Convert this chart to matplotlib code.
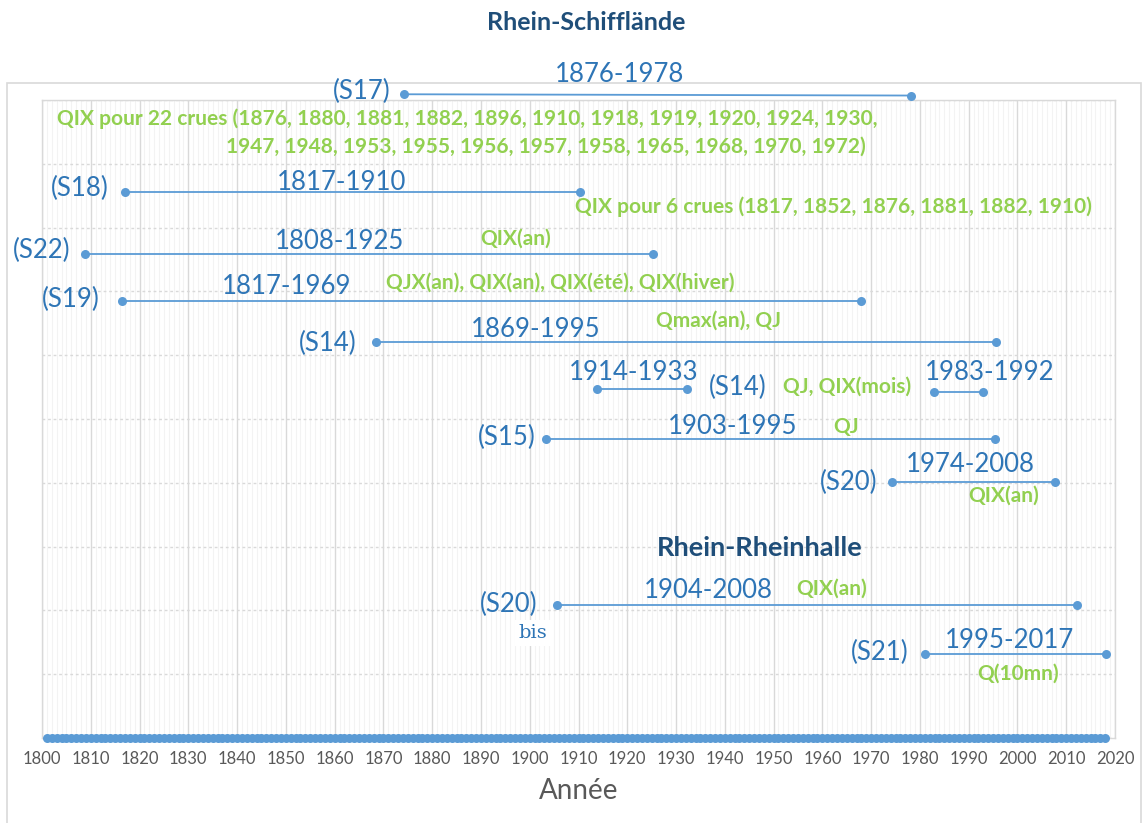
import numpy as np
import matplotlib
matplotlib.use("Agg")
import matplotlib.pyplot as plt
from matplotlib.patches import Rectangle
from matplotlib.ticker import MultipleLocator

# ---------------- data ----------------
series_names = ["S17", "S18", "S22", "S19", "S14", "S14a", "S14b", "S15", "S20", "S20bis", "S21"]
start_years = [1874.2, 1817.0, 1808.8, 1816.4, 1868.5, 1913.8, 1982.9, 1903.3, 1974.3, 1905.6, 1981.1]
end_years = [1978.1, 1910.3, 1925.3, 1967.9, 1995.6, 1932.3, 1993.0, 1995.4, 2007.7, 2012.2, 2018.2]
levels_start = [10.09, 8.56, 7.59, 6.85, 6.21, 5.47, 5.42, 4.69, 4.01, 2.08, 1.32]
levels_end = [10.07, 8.56, 7.59, 6.85, 6.21, 5.47, 5.42, 4.69, 4.01, 2.08, 1.32]
axis_years = list(range(1801, 2019))
tick_years = list(range(1800, 2021, 10))

W, H = 1145, 823
BLUE_TXT = "#2E75B6"
BLUE = "#5B9BD5"
GREEN = "#92D050"
NAVY = "#1F4E79"
GRAY = "#595959"

plt.rcParams["font.family"] = ["Lato", "DejaVu Sans"]

fig = plt.figure(figsize=(W / 100, H / 100), dpi=100)
ax = fig.add_axes([42 / W, 1 - 738 / H, (1115 - 42) / W, (738 - 100) / H])

# outer chart border
fig.patches.append(Rectangle((7 / W, -0.05), (1141 - 7) / W, 0.05 + 1 - 83 / H,
                             transform=fig.transFigure, fill=False,
                             edgecolor="#D9D9D9", lw=1.2, zorder=0))

ax.set_xlim(1800, 2020)
ax.set_ylim(0, 10)
ax.xaxis.set_major_locator(MultipleLocator(10))
ax.xaxis.set_minor_locator(MultipleLocator(1))
ax.yaxis.set_major_locator(MultipleLocator(1))
ax.grid(which="minor", axis="x", color="#F3F3F3", lw=0.8)
ax.grid(which="major", axis="x", color="#D9D9D9", lw=1.0)
ax.grid(which="major", axis="y", color="#D9D9D9", lw=1.0, ls=(0, (2, 2)))
ax.set_axisbelow(True)
ax.set_yticklabels([])
ax.tick_params(axis="y", length=0)
ax.tick_params(axis="x", which="both", length=0, pad=9, labelsize=12, labelcolor=GRAY)
ax.set_xticks(tick_years)
ax.set_xticklabels([str(t) for t in tick_years])
for s in ax.spines.values():
    s.set_color("#D9D9D9")
    s.set_linewidth(1.0)

# segments
for x0, x1, y0, y1 in zip(start_years, end_years, levels_start, levels_end):
    ax.plot([x0, x1], [y0, y1], color=BLUE, lw=1.3, marker="o", ms=6.5,
            markeredgewidth=0, clip_on=False, zorder=3)

# bottom axis band of yearly points
ax.plot(axis_years, [0] * len(axis_years), color=BLUE, lw=0, marker="o", ms=6.5,
        markeredgewidth=0, clip_on=False, zorder=3)

ax.set_xlabel("Année", fontsize=20, color=GRAY, labelpad=8)

# ---------------- annotations (figure pixel positions) ----------------
def ftext(px, py, s, color, size, weight="normal", ha="center", **kw):
    fig.text(px / W, 1 - py / H, s, color=color, fontsize=size, fontweight=weight,
             ha=ha, va="center", **kw)

BS = 18.5  # blue label size
GS = 15  # green label size

ftext(586, 22, "Rhein-Schifflände", NAVY, 18, "bold")
ftext(760, 548, "Rhein-Rheinhalle", NAVY, 19.5, "bold")

blue_labels = [
    (362, 91, "(S17)"), (620, 74, "1876-1978"),
    (80, 188, "(S18)"), (342, 183, "1817-1910"),
    (42, 250, "(S22)"), (340, 241, "1808-1925"),
    (71, 299, "(S19)"), (287, 286, "1817-1969"),
    (328, 343, "(S14)"), (536, 329, "1869-1995"),
    (634, 372, "1914-1933"), (738, 387, "(S14)"), (990, 373, "1983-1992"),
    (507, 437, "(S15)"), (733, 427, "1903-1995"),
    (849, 482, "(S20)"), (970, 465, "1974-2008"),
    (509, 604, "(S20)"), (708, 590, "1904-2008"),
    (880, 652, "(S21)"), (1009, 640, "1995-2017"),
]
for px, py, s in blue_labels:
    ftext(px, py, s, BLUE_TXT, BS)

green_labels = [
    (467, 119, "QIX pour 22 crues (1876, 1880, 1881, 1882, 1896, 1910, 1918, 1919, 1920, 1924, 1930,"),
    (546, 147, "1947, 1948, 1953, 1955, 1956, 1957, 1958, 1965, 1968, 1970, 1972)"),
    (833, 207, "QIX pour 6 crues (1817, 1852, 1876, 1881, 1882, 1910)"),
    (516, 239, "QIX(an)"),
    (560, 283, "QJX(an), QIX(an), QIX(été), QIX(hiver)"),
    (718, 321, "Qmax(an), QJ"),
    (847, 387, "QJ, QIX(mois)"),
    (846, 427, "QJ"),
    (1004, 496, "QIX(an)"),
    (832, 589, "QIX(an)"),
    (1018, 674, "Q(10mn)"),
]
for px, py, s in green_labels:
    ftext(px, py, s, GREEN, GS, "bold")

fig.text(533 / W, 1 - 633 / H, "bis", color=BLUE_TXT, fontsize=14,
         family=["DejaVu Serif"], ha="center", va="center",
         bbox=dict(facecolor="white", edgecolor="none", pad=3))

fig.savefig("out.png", dpi=100)
